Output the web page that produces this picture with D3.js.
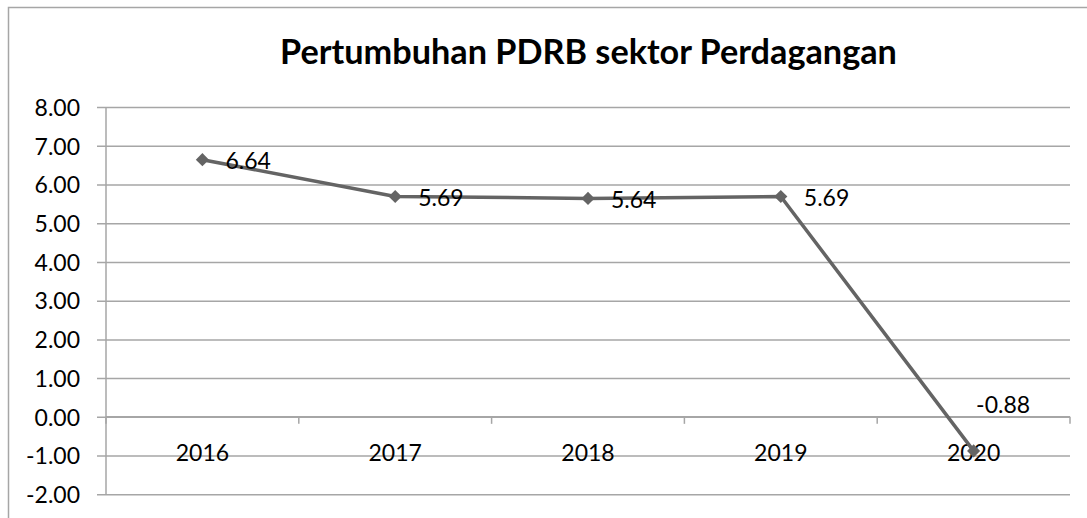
<!DOCTYPE html>
<html><head><meta charset="utf-8">
<script src="https://cdn.jsdelivr.net/npm/d3@7"></script>
<style>html,body{margin:0;padding:0;background:#fff;overflow:hidden}</style>
</head><body>
<svg id="c" width="1087" height="518"></svg>
<script>
const title = "Pertumbuhan PDRB sektor Perdagangan";
const years = ["2016", "2017", "2018", "2019", "2020"];
const growth = [6.64, 5.69, 5.64, 5.69, -0.88];
const yTicks = [8, 7, 6, 5, 4, 3, 2, 1, 0, -1, -2];

(function () {
const svg = d3.select("#c");
const W = 1087, H = 518;
const font = "Lato, 'Open Sans', sans-serif";
const grid = "#a6a6a6", lineCol = "#646464";
const fmt = v => d3.format(".2f")(v).replace("\u2212", "-");
const fs = 23;

// frame
svg.append("rect").attr("x", 8.5).attr("y", 7.5).attr("width", W + 20).attr("height", H + 20)
  .attr("fill", "none").attr("stroke", grid).attr("stroke-width", 1.5);

const pLeft = 106, pRight = 1070, pTop = 107, pBottom = 494.3;
const y = d3.scaleLinear().domain([-2, 8]).range([pBottom, pTop]);
const x = d3.scaleBand().domain(years).range([pLeft, pRight]).padding(0);

// title
const t = svg.append("text").attr("x", (280 + 897) / 2).attr("y", 63.5)
  .attr("text-anchor", "middle").attr("font-family", font).attr("font-weight", "bold")
  .attr("font-size", 30).attr("fill", "#000").text(title);
const tw = t.node().getComputedTextLength();
t.attr("font-size", 30 * 617 / tw);

// y axis with gridlines
const yAxis = d3.axisLeft(y).tickValues(yTicks).tickFormat(fmt)
  .tickSize(-(pRight - pLeft)).tickPadding(0);
const gy = svg.append("g").attr("transform", `translate(${pLeft},0)`).call(yAxis);
gy.select(".domain").remove();
gy.selectAll(".tick line").attr("stroke", grid).attr("stroke-width", 1.5)
  .attr("x1", -9).attr("x2", pRight - pLeft);
gy.selectAll(".tick text").attr("x", -26).attr("dy", "0.36em")
  .attr("font-family", font).attr("font-size", fs).attr("fill", "#000");

// vertical axis line
svg.append("line").attr("x1", pLeft).attr("x2", pLeft).attr("y1", pTop).attr("y2", pBottom)
  .attr("stroke", grid).attr("stroke-width", 1.5);

// x axis at zero with boundary ticks
const bounds = years.map(d => x(d)).concat([pRight]);
const gx = svg.append("g");
gx.append("line").attr("x1", pLeft).attr("x2", pRight).attr("y1", y(0)).attr("y2", y(0))
  .attr("stroke", grid).attr("stroke-width", 1.5);
gx.selectAll("line.tk").data(bounds).enter().append("line").attr("class", "tk")
  .attr("x1", d => d).attr("x2", d => d).attr("y1", y(0)).attr("y2", y(0) + 7)
  .attr("stroke", grid).attr("stroke-width", 1.5);
gx.selectAll("text").data(years).enter().append("text")
  .attr("x", d => x(d) + x.bandwidth() / 2).attr("y", y(0) + 36)
  .attr("dy", "0.36em").attr("text-anchor", "middle")
  .attr("font-family", font).attr("font-size", fs).attr("fill", "#000").text(d => d);

// line
const cx = (d, i) => x(years[i]) + x.bandwidth() / 2;
const line = d3.line().x(cx).y(d => y(d));
svg.append("path").datum(growth).attr("d", line).attr("fill", "none")
  .attr("stroke", lineCol).attr("stroke-width", 3.5).attr("stroke-linejoin", "round");

// markers
const diamond = d3.symbol().type(d3.symbolDiamond2).size(110);
svg.selectAll("path.mk").data(growth).enter().append("path").attr("class", "mk")
  .attr("d", diamond).attr("transform", (d, i) => `translate(${cx(d, i)},${y(d)})`)
  .attr("fill", lineCol);

// data labels
svg.selectAll("text.lbl").data(growth).enter().append("text").attr("class", "lbl")
  .attr("x", (d, i) => cx(d, i) + (d < 0 ? 2.5 : 23))
  .attr("y", (d, i) => y(d) + (d < 0 ? -46 : 1))
  .attr("dy", "0.36em")
  .attr("font-family", font).attr("font-size", fs).attr("fill", "#000")
  .text(fmt);
})();
</script>
</body></html>
